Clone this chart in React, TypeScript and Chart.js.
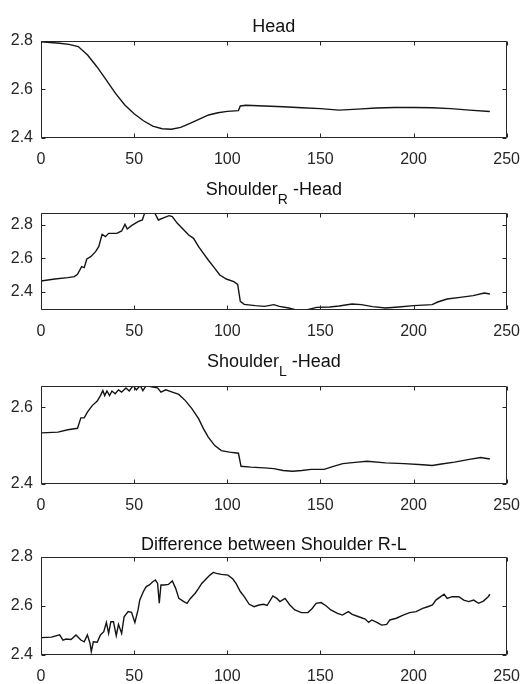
import { useEffect, useRef } from "react";
import { Chart, registerables } from "chart.js";

Chart.register(...registerables);

// ---------- data ----------
const xTicks = [0, 50, 100, 150, 200, 250];

const headX = [0, 5, 10, 15, 20, 25, 30, 35, 40, 45, 50, 55, 60, 65, 70, 75, 80, 85, 90, 95, 100, 106, 107, 110, 120, 130, 140, 150, 160, 170, 180, 190, 200, 210, 220, 230, 241];
const headY = [2.797, 2.794, 2.791, 2.786, 2.777, 2.742, 2.694, 2.64, 2.584, 2.536, 2.5, 2.471, 2.449, 2.438, 2.436, 2.444, 2.46, 2.478, 2.495, 2.504, 2.51, 2.513, 2.532, 2.535, 2.532, 2.529, 2.525, 2.521, 2.515, 2.519, 2.524, 2.526, 2.526, 2.525, 2.521, 2.515, 2.509];
const headYTicks = [2.4, 2.6, 2.8];

const shoulderRX = [0, 7.4, 14.4, 17.9, 19.6, 21.8, 23.2, 24.6, 26.7, 29.3, 31, 32.8, 34.6, 36.3, 40.7, 43.3, 45.1, 46.3, 48.6, 52.1, 54.4, 55.6, 60.9, 63, 66.1, 68.8, 70.5, 73.2, 75.8, 79.3, 81.9, 84.6, 87.2, 89.8, 93.3, 96, 99.5, 103.5, 105.6, 107, 109.1, 115, 120, 125, 128, 133, 138, 143, 148, 155, 160, 167, 172, 178, 185, 192, 200, 210, 213, 218, 225, 232, 238, 241];
const shoulderRY = [2.464, 2.476, 2.484, 2.49, 2.504, 2.55, 2.544, 2.596, 2.61, 2.64, 2.67, 2.744, 2.73, 2.75, 2.75, 2.764, 2.804, 2.776, 2.796, 2.82, 2.83, 2.87, 2.876, 2.83, 2.844, 2.856, 2.85, 2.81, 2.78, 2.74, 2.72, 2.67, 2.63, 2.59, 2.54, 2.5, 2.476, 2.46, 2.444, 2.342, 2.324, 2.316, 2.312, 2.322, 2.312, 2.302, 2.288, 2.292, 2.306, 2.308, 2.314, 2.326, 2.322, 2.31, 2.302, 2.308, 2.316, 2.322, 2.338, 2.356, 2.366, 2.376, 2.392, 2.386];
const shoulderRYTicks = [2.4, 2.6, 2.8];

const shoulderLX = [0.4, 9.1, 14.4, 19.6, 21.4, 23.2, 24.9, 27.5, 30.2, 31.9, 33.2, 34.2, 35.4, 36.8, 38.1, 39.8, 41.6, 43.3, 45.6, 47.4, 49.5, 51.2, 53.3, 54.7, 56.5, 60, 62.6, 64.4, 67, 70.5, 74, 77.5, 81, 84.6, 87.2, 89.8, 93.3, 96.8, 101.2, 106, 107.4, 112.6, 120, 125, 130, 135, 140, 145, 152, 157, 162, 170, 175, 185, 195, 205, 210, 215, 222, 230, 236, 241];
const shoulderLY = [2.533, 2.535, 2.541, 2.545, 2.572, 2.572, 2.587, 2.604, 2.616, 2.63, 2.643, 2.63, 2.642, 2.63, 2.642, 2.635, 2.645, 2.639, 2.65, 2.642, 2.656, 2.645, 2.656, 2.643, 2.656, 2.652, 2.65, 2.639, 2.645, 2.639, 2.633, 2.617, 2.596, 2.57, 2.544, 2.522, 2.5, 2.487, 2.483, 2.48, 2.446, 2.444, 2.442, 2.44, 2.435, 2.433, 2.435, 2.438, 2.438, 2.446, 2.453, 2.457, 2.459, 2.455, 2.453, 2.45, 2.448, 2.452, 2.457, 2.464, 2.469, 2.465];
const shoulderLYTicks = [2.4, 2.6];

const diffX = [0.4, 5.6, 10, 11.8, 13.5, 16.1, 18.8, 21.4, 23.2, 24.9, 26.3, 27, 28.1, 30.2, 31.9, 33.7, 35.1, 36.3, 37.5, 38.9, 40.4, 41.6, 43.3, 44.6, 46.8, 48.6, 50.4, 52.1, 53, 55.1, 56.5, 58.2, 60, 61.4, 62.6, 63.5, 64.4, 66.1, 68.4, 70.5, 72.3, 74, 76.7, 78.4, 80.2, 82.8, 84.6, 86.3, 89, 90.7, 92.5, 94.2, 96.8, 100.4, 103, 104.7, 107, 109.1, 111.8, 114.4, 117, 119.6, 121.4, 124.5, 126.6, 128.3, 131, 133.6, 136.3, 139.8, 143.3, 145.6, 147.7, 150.4, 153, 155.6, 159.2, 161.8, 165, 167.1, 170.6, 174.1, 175.9, 177.6, 180.3, 182.9, 185.6, 187.3, 190.8, 194.4, 197.9, 201.4, 204.9, 207.6, 210.2, 212, 214.6, 216.4, 218.1, 220.8, 224.3, 227, 229.6, 232.3, 234.9, 237.5, 240.1, 241];
const diffY = [2.471, 2.473, 2.482, 2.461, 2.465, 2.463, 2.482, 2.461, 2.454, 2.482, 2.448, 2.414, 2.454, 2.452, 2.482, 2.495, 2.533, 2.488, 2.536, 2.536, 2.479, 2.525, 2.488, 2.556, 2.577, 2.574, 2.533, 2.584, 2.624, 2.661, 2.679, 2.686, 2.699, 2.706, 2.692, 2.611, 2.686, 2.686, 2.688, 2.702, 2.672, 2.631, 2.618, 2.611, 2.631, 2.652, 2.672, 2.692, 2.713, 2.726, 2.737, 2.733, 2.729, 2.726, 2.71, 2.692, 2.659, 2.638, 2.607, 2.597, 2.604, 2.607, 2.602, 2.641, 2.631, 2.618, 2.631, 2.604, 2.584, 2.573, 2.573, 2.59, 2.611, 2.614, 2.601, 2.584, 2.57, 2.563, 2.577, 2.566, 2.556, 2.547, 2.533, 2.543, 2.533, 2.522, 2.525, 2.543, 2.55, 2.563, 2.573, 2.577, 2.59, 2.597, 2.604, 2.624, 2.638, 2.648, 2.631, 2.638, 2.638, 2.624, 2.618, 2.624, 2.611, 2.62, 2.638, 2.648];
const diffYTicks = [2.4, 2.6, 2.8];

// ---------- layout / style ----------
const W = 532;
const H = 684;
const TICK_FONT = '"Liberation Sans", Arial, sans-serif';
const TITLE_FONT = '"Liberation Sans", Arial, sans-serif';
const INK = "#262626";

type Panel = {
  title: string;
  sub?: string;
  rest?: string;
  xs: number[];
  ys: number[];
  yMin: number;
  yMax: number;
  yTicks: number[];
  top: number;
  bottom: number;
  titleGap: number;
};

const panels: Panel[] = [
  { title: "Head", xs: headX, ys: headY, yMin: 2.4, yMax: 2.8, yTicks: headYTicks, top: 41, bottom: 138, titleGap: 9.5 },
  { title: "Shoulder", sub: "R", rest: " -Head", xs: shoulderRX, ys: shoulderRY, yMin: 2.29, yMax: 2.872, yTicks: shoulderRYTicks, top: 213, bottom: 310, titleGap: 18 },
  { title: "Shoulder", sub: "L", rest: " -Head", xs: shoulderLX, ys: shoulderLY, yMin: 2.4, yMax: 2.655, yTicks: shoulderLYTicks, top: 386, bottom: 484, titleGap: 19 },
  { title: "Difference between Shoulder R-L", xs: diffX, ys: diffY, yMin: 2.4, yMax: 2.8, yTicks: diffYTicks, top: 557, bottom: 655, titleGap: 7.5 },
];

function makeFramePlugin(p: Panel) {
  return {
    id: "boxFrame",
    afterDraw(chart: any) {
      const ctx: CanvasRenderingContext2D = chart.ctx;
      const area = chart.chartArea;
      const xs = chart.scales.x;
      const ys = chart.scales.y;
      const L = Math.round(area.left) + 0.5;
      const R = Math.round(area.right) - 0.5;
      const T = Math.round(area.top) + 0.5;
      const B = Math.round(area.bottom) - 0.5;
      const tl = 4;
      ctx.save();
      ctx.setLineDash([]);
      ctx.globalAlpha = 1;
      ctx.strokeStyle = INK;
      ctx.lineWidth = 1;
      ctx.beginPath();
      ctx.moveTo(L, T);
      ctx.lineTo(R, T);
      ctx.lineTo(R, B);
      ctx.lineTo(L, B);
      ctx.closePath();
      ctx.stroke();
      ctx.beginPath();
      for (const v of xTicks) {
        const px = Math.round(xs.getPixelForValue(v)) + 0.5;
        ctx.moveTo(px, B);
        ctx.lineTo(px, B - tl);
        ctx.moveTo(px, T);
        ctx.lineTo(px, T + tl);
      }
      for (const v of p.yTicks) {
        const py = Math.round(ys.getPixelForValue(v)) + 0.5;
        ctx.moveTo(L, py);
        ctx.lineTo(L + tl, py);
        ctx.moveTo(R, py);
        ctx.lineTo(R - tl, py);
      }
      ctx.stroke();

      // title (with optional subscript)
      ctx.fillStyle = "#111";
      ctx.textBaseline = "alphabetic";
      ctx.textAlign = "left";
      const mainFont = `18px ${TITLE_FONT}`;
      const subFont = `14px ${TITLE_FONT}`;
      ctx.font = mainFont;
      const w1 = ctx.measureText(p.title).width;
      let w2 = 0;
      let w3 = 0;
      if (p.sub) {
        ctx.font = subFont;
        w2 = ctx.measureText(p.sub).width;
        ctx.font = mainFont;
        w3 = ctx.measureText(p.rest || "").width;
      }
      const total = w1 + w2 + w3;
      let x = (area.left + area.right) / 2 - total / 2;
      const base = area.top - p.titleGap;
      ctx.font = mainFont;
      ctx.fillText(p.title, x, base);
      x += w1;
      if (p.sub) {
        ctx.font = subFont;
        ctx.fillText(p.sub, x, base + 9);
        x += w2;
        ctx.font = mainFont;
        ctx.fillText(p.rest || "", x, base);
      }
      ctx.restore();
    },
  };
}

function PanelChart({ panel }: { panel: Panel }) {
  const ref = useRef<HTMLCanvasElement | null>(null);
  useEffect(() => {
    if (!ref.current) return;
    const chart = new Chart(ref.current, {
      type: "line",
      data: {
        datasets: [
          {
            data: panel.xs.map((x, i) => ({ x, y: panel.ys[i] })),
            borderColor: "#141414",
            borderWidth: 1.4,
            pointRadius: 0,
            tension: 0,
            fill: false,
          },
        ],
      },
      options: {
        animation: false,
        responsive: false,
        devicePixelRatio: 1,
        events: [],
        layout: {
          padding: { top: panel.top, left: 0, right: 24, bottom: H - panel.bottom - 26 },
        },
        plugins: {
          legend: { display: false },
          tooltip: { enabled: false },
          title: { display: false },
        },
        scales: {
          x: {
            type: "linear",
            min: 0,
            max: 250,
            grid: { display: false, drawTicks: false },
            border: { display: false },
            afterBuildTicks: (s: any) => {
              s.ticks = xTicks.map((v) => ({ value: v }));
            },
            afterFit: (s: any) => {
              s.height = 26;
            },
            ticks: {
              autoSkip: false,
              maxRotation: 0,
              padding: 12,
              color: INK,
              font: { family: TICK_FONT, size: 16 },
              callback: (v: any) => String(v),
            },
          },
          y: {
            type: "linear",
            min: panel.yMin,
            max: panel.yMax,
            grid: { display: false, drawTicks: false },
            border: { display: false },
            afterBuildTicks: (s: any) => {
              s.ticks = panel.yTicks.map((v) => ({ value: v }));
            },
            afterFit: (s: any) => {
              s.width = 41;
            },
            ticks: {
              autoSkip: false,
              padding: 8,
              color: INK,
              font: { family: TICK_FONT, size: 16 },
              callback: (v: any) => Number(v).toFixed(1),
            },
          },
        },
      },
      plugins: [makeFramePlugin(panel)],
    });
    return () => chart.destroy();
  }, [panel]);
  return (
    <canvas
      ref={ref}
      width={W}
      height={H}
      style={{ position: "absolute", left: 0, top: 0, width: W, height: H }}
    />
  );
}

export default function App() {
  return (
    <div style={{ position: "absolute", left: 0, top: 0, width: W, height: H, background: "#fff" }}>
      {panels.map((p, i) => (
        <PanelChart key={i} panel={p} />
      ))}
    </div>
  );
}
